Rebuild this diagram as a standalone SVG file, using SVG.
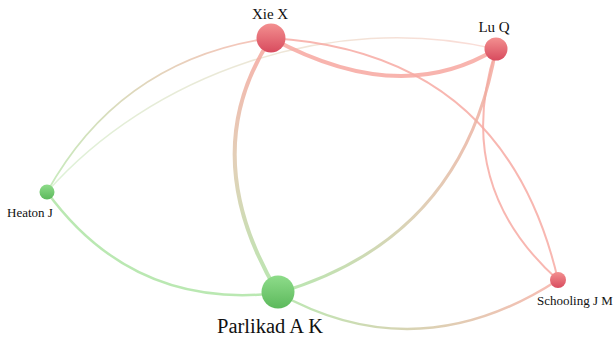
<svg xmlns="http://www.w3.org/2000/svg" width="613" height="338" viewBox="0 0 613 338">
<style>
.e{fill:none;stroke-linecap:round;opacity:0.85}
.lbl{font-family:"Liberation Serif","Times New Roman",serif;fill:#111}
</style>
<defs>
<linearGradient id="nr" x1="0" y1="0" x2="0" y2="1"><stop offset="0" stop-color="#f39090"/><stop offset="1" stop-color="#d84b5e"/></linearGradient>
<linearGradient id="ng" x1="0" y1="0" x2="0" y2="1"><stop offset="0" stop-color="#8edc8a"/><stop offset="1" stop-color="#5cb95c"/></linearGradient>
<linearGradient id="gHX" gradientUnits="userSpaceOnUse" x1="47" y1="192" x2="271" y2="38"><stop offset="0" stop-color="#bde8b2"/><stop offset="1" stop-color="#f7b8ae"/></linearGradient>
<linearGradient id="gHL" gradientUnits="userSpaceOnUse" x1="47" y1="192" x2="496" y2="49"><stop offset="0" stop-color="#d8f0d0"/><stop offset="1" stop-color="#fad6d0"/></linearGradient>
<linearGradient id="gXP" gradientUnits="userSpaceOnUse" x1="271" y1="38" x2="278" y2="293"><stop offset="0" stop-color="#f7a39c"/><stop offset="0.5" stop-color="#dcc9ac"/><stop offset="1" stop-color="#ace3a3"/></linearGradient>
<linearGradient id="gLP" gradientUnits="userSpaceOnUse" x1="496" y1="49" x2="278" y2="293"><stop offset="0" stop-color="#f6a49c"/><stop offset="0.5" stop-color="#dcc6aa"/><stop offset="1" stop-color="#ace3a3"/></linearGradient>
<linearGradient id="gPS" gradientUnits="userSpaceOnUse" x1="278" y1="293" x2="558" y2="280"><stop offset="0" stop-color="#b0e4a6"/><stop offset="1" stop-color="#f7b0a6"/></linearGradient>
</defs>
<g id="connectors">
<path class="e" d="M47,192 C150,75 330,10 496,49" stroke="url(#gHL)" stroke-width="1.5"/>
<path class="e" d="M47,192 Q121,59 271,38" stroke="url(#gHX)" stroke-width="1.8"/>
<path class="e" d="M47,192 Q133,310 278,293" stroke="#aee4a4" stroke-width="2.5"/>
<path class="e" d="M271,38 Q195,154 278,293" stroke="url(#gXP)" stroke-width="4"/>
<path class="e" d="M271,38 Q400,108 496,49" stroke="#f7a7a0" stroke-width="4"/>
<path class="e" d="M271,38 Q505,52 558,280" stroke="#f7aaa3" stroke-width="2"/>
<path class="e" d="M496,49 Q452,185 558,280" stroke="#f7aaa3" stroke-width="2"/>
<path class="e" d="M496,49 Q463,239 278,293" stroke="url(#gLP)" stroke-width="3"/>
<path class="e" d="M278,293 Q418,371 558,280" stroke="url(#gPS)" stroke-width="2.5"/>
</g>
<g id="node-xie"><circle cx="271" cy="38" r="14.5" fill="url(#nr)"/><text class="lbl" x="270" y="19" font-size="15" text-anchor="middle">Xie X</text></g>
<g id="node-lu"><circle cx="496" cy="49" r="11.5" fill="url(#nr)"/><text class="lbl" x="494" y="32" font-size="15" text-anchor="middle">Lu Q</text></g>
<g id="node-heaton"><circle cx="47" cy="192" r="7.5" fill="url(#ng)"/><text class="lbl" x="7" y="217" font-size="13">Heaton J</text></g>
<g id="node-parlikad"><circle cx="278" cy="292" r="16.5" fill="url(#ng)"/><text class="lbl" x="270" y="333" font-size="20.5" text-anchor="middle">Parlikad A K</text></g>
<g id="node-schooling"><circle cx="558" cy="280" r="8" fill="url(#nr)"/><text class="lbl" x="537" y="305" font-size="13">Schooling J M</text></g>
</svg>
